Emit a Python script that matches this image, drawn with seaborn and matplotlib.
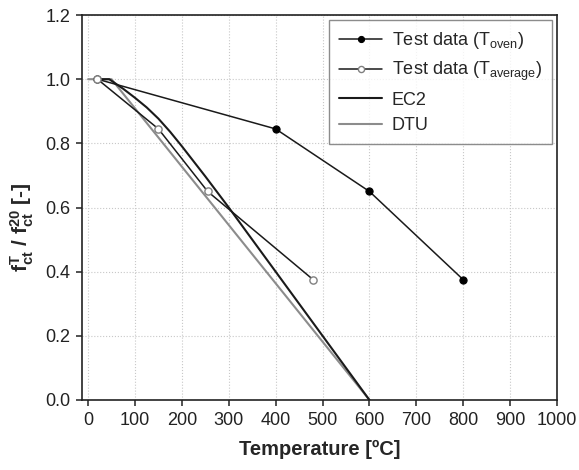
import numpy as np
import pandas as pd
import seaborn as sns
import matplotlib
matplotlib.use("Agg")
import matplotlib.pyplot as plt

# data
t_oven = [20, 400, 600, 800]
f_oven = [1.0, 0.845, 0.65, 0.375]

t_avg = [20, 150, 255, 480]
f_avg = [1.0, 0.845, 0.65, 0.375]

t_ec2 = [20, 45, 75, 100, 125, 150, 175, 200, 250, 300, 600]
f_ec2 = [1.0, 1.0, 0.97, 0.942, 0.912, 0.877, 0.836, 0.791, 0.697, 0.6, 0.0]

t_dtu = [0, 50, 600]
f_dtu = [1.0, 1.0, 0.0]

sns.set_theme(style="ticks")
plt.rcParams["font.family"] = ["Liberation Sans", "DejaVu Sans"]
plt.rcParams["mathtext.fontset"] = "custom"
plt.rcParams["mathtext.rm"] = "Liberation Sans"
plt.rcParams["mathtext.it"] = "Liberation Sans:italic"
plt.rcParams["mathtext.bf"] = "Liberation Sans:bold"
plt.rcParams["mathtext.default"] = "regular"

fig, ax = plt.subplots(figsize=(5.79, 4.70), dpi=100)
fig.subplots_adjust(left=0.1416, right=0.962, top=0.968, bottom=0.149)

sns.lineplot(x=t_dtu, y=f_dtu, ax=ax, color="#8c8c8c", linewidth=1.5, label="DTU", zorder=2)
sns.lineplot(x=t_ec2, y=f_ec2, ax=ax, color="#1a1a1a", linewidth=1.5, label="EC2", zorder=3)
sns.lineplot(x=t_oven, y=f_oven, ax=ax, color="#1a1a1a", linewidth=1.1, marker="o",
             markersize=5.2, markerfacecolor="black", markeredgecolor="black",
             label="Test data (T$_{oven}$)", zorder=4)
sns.lineplot(x=t_avg, y=f_avg, ax=ax, color="#1a1a1a", linewidth=1.1, marker="o",
             markersize=5.2, markerfacecolor="white", markeredgecolor="#808080",
             markeredgewidth=1.0, label="Test data (T$_{average}$)", zorder=5)

ax.set_xlim(-13, 1000)
ax.set_ylim(0, 1.2)
ax.set_xticks(np.arange(0, 1001, 100))
ax.set_yticks(np.arange(0, 1.21, 0.2))
ax.set_yticklabels([f"{v:.1f}" for v in np.arange(0, 1.21, 0.2)])
ax.grid(True, linestyle=":", color="#c8c8c8", linewidth=0.8)
ax.set_axisbelow(True)

for s in ax.spines.values():
    s.set_color("#222222")
    s.set_linewidth(1.2)
ax.tick_params(axis="both", direction="out", length=4.5, width=1.1, color="#222222",
               labelsize=13, labelcolor="#222222", pad=4)

ax.set_xlabel("Temperature [ºC]", fontsize=14.5, fontweight="bold", labelpad=8)
ax.set_ylabel(r"$\mathbf{f^{T}_{ct}}$ / $\mathbf{f^{20}_{ct}}$ [-]", fontsize=15,
              fontweight="bold")
ax.yaxis.set_label_coords(-0.097, 0.45)

h, l = ax.get_legend_handles_labels()
order = [2, 3, 1, 0]
leg = ax.legend([h[i] for i in order], [l[i] for i in order], loc="upper right",
                fontsize=13, frameon=True, fancybox=False, edgecolor="#707070",
                handlelength=2.4, handletextpad=0.5, labelspacing=0.47,
                borderaxespad=0.3, borderpad=0.55, markerscale=0.85)
leg.get_frame().set_linewidth(1.0)

fig.savefig("out.png", dpi=100)
